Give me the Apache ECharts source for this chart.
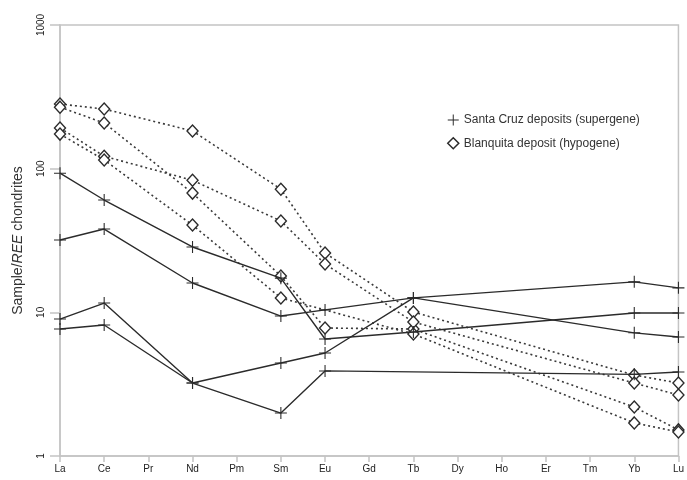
<!DOCTYPE html>
<html>
<head>
<meta charset="utf-8">
<script src="https://cdn.jsdelivr.net/npm/echarts@6/dist/echarts.min.js"></script>
<style>html,body{margin:0;padding:0;background:#fff}#c{width:687px;height:480px}</style>
</head>
<body>
<div id="c"></div>
<script>
var categories = ['La','Ce','Pr','Nd','Pm','Sm','Eu','Gd','Tb','Dy','Ho','Er','Tm','Yb','Lu'];
var superName = 'Santa Cruz deposits (supergene)';
var hypoName = 'Blanquita deposit (hypogene)';

// Santa Cruz (supergene), chondrite-normalized
var santaCruz1 = [93, 60.5, null, 28.5, null, 17.3, 6.52, null, 7.3, null, null, null, null, 9.9, 9.9];
var santaCruz2 = [31.9, 38, null, 16, null, 9.42, 10.4, null, 12.6, null, null, null, null, 16.3, 14.8];
var santaCruz3 = [8.98, 11.6, null, 3.22, null, 4.44, 5.21, null, 12.6, null, null, null, null, 7.2, 6.73];
var santaCruz4 = [7.65, 8.16, null, 3.22, null, 1.99, 3.91, null, null, null, null, null, null, 3.7, 3.84];

// Blanquita (hypogene)
var blanquita1 = [282, 260, null, 183, null, 72, 25.9, null, 10.05, null, null, null, null, 3.66, 3.22];
var blanquita2 = [268, 208, null, 67.6, null, 17.9, 7.78, null, 7.65, null, null, null, null, 2.19, 1.52];
var blanquita3 = [192, 122, null, 83, null, 43.2, 21.7, null, 8.56, null, null, null, null, 3.22, 2.66];
var blanquita4 = [174, 115, null, 40.5, null, 12.6, null, null, 7.06, null, null, null, null, 1.70, 1.47];

var plusPath = 'path://M-0.09,-1H0.09V-0.09H1V0.09H0.09V1H-0.09V0.09H-1V-0.09H-0.09Z';
var ink = '#2b2b2b';
var axisGray = '#c4c4c4';
var font = 'Liberation Sans, Arial, sans-serif';

function hypo(data) {
  return {
    name: hypoName, type: 'line', data: data, connectNulls: true,
    symbol: 'diamond', symbolSize: [11, 12],
    itemStyle: { color: '#fff', borderColor: ink, borderWidth: 1.4 },
    lineStyle: { color: '#3a3a3a', width: 1.6, type: [2, 3] },
    emphasis: { disabled: true }, z: 2
  };
}
function sup(data) {
  return {
    name: superName, type: 'line', data: data, connectNulls: true,
    symbol: plusPath, symbolSize: 12,
    itemStyle: { color: ink },
    lineStyle: { color: ink, width: 1.4, type: 'solid' },
    emphasis: { disabled: true }, z: 3
  };
}

var chart = echarts.init(document.getElementById('c'));
chart.setOption({
  animation: false,
  backgroundColor: '#fff',
  textStyle: { fontFamily: font },
  grid: { left: 60, right: 5, top: 25, bottom: 24, show: true, borderColor: axisGray, borderWidth: 1.5, backgroundColor: 'transparent' },
  legend: {
    orient: 'vertical', left: 442, top: 109, itemGap: 11, itemWidth: 11, itemHeight: 11,
    textStyle: { fontSize: 12, color: '#333', fontFamily: font },
    data: [
      { name: superName, icon: plusPath, itemStyle: { color: ink, borderWidth: 0 } },
      { name: hypoName, icon: 'diamond', itemStyle: { color: '#fff', borderColor: ink, borderWidth: 1.5 } }
    ]
  },
  xAxis: {
    type: 'category', data: categories, boundaryGap: false,
    axisLine: { lineStyle: { color: axisGray, width: 1.5 } },
    axisTick: { show: true, length: 6, alignWithLabel: true, lineStyle: { color: axisGray, width: 1.5 } },
    axisLabel: { fontSize: 10, color: '#222', margin: 8, interval: 0, fontFamily: font },
    splitLine: { show: false }
  },
  yAxis: {
    type: 'log', logBase: 10, min: 1, max: 1000,
    axisLine: { show: true, lineStyle: { color: axisGray, width: 1.5 } },
    axisTick: { show: true, length: 10, lineStyle: { color: axisGray, width: 1.5 } },
    axisLabel: { rotate: 90, fontSize: 10, color: '#222', margin: 14, fontFamily: font,
      formatter: function (v) { return String(Math.round(v)); } },
    splitLine: { show: false },
    minorTick: { show: false },
    name: '{a|Sample/}{b|REE}{a| chondrites}',
    nameLocation: 'middle', nameRotate: 90, nameGap: 35,
    nameTextStyle: {
      rich: {
        a: { fontSize: 14, color: '#333', fontFamily: font },
        b: { fontSize: 14, color: '#333', fontStyle: 'italic', fontFamily: font }
      }
    }
  },
  series: [
    hypo(blanquita1), hypo(blanquita2), hypo(blanquita3), hypo(blanquita4),
    sup(santaCruz1), sup(santaCruz2), sup(santaCruz3), sup(santaCruz4)
  ]
});
</script>
</body>
</html>
